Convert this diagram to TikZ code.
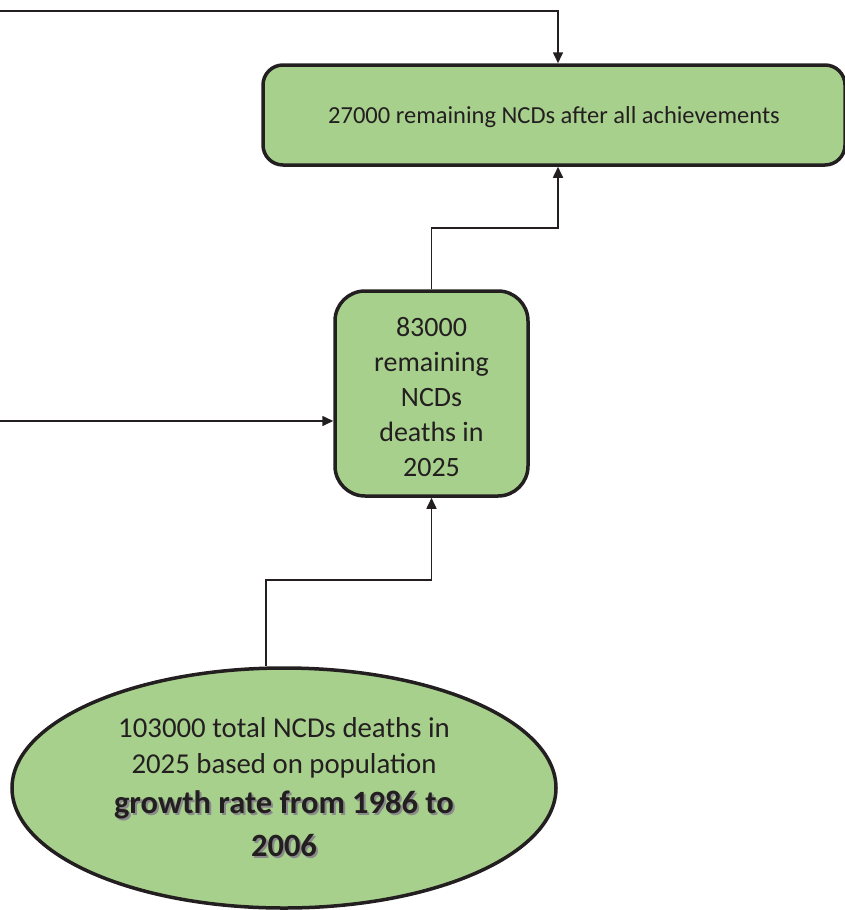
\documentclass[tikz,border=0pt]{standalone}
\usepackage{fontspec}
\setmainfont{Carlito}
\usetikzlibrary{arrows.meta,shapes.geometric}
\definecolor{boxgreen}{HTML}{A8D08D}
\definecolor{ink}{HTML}{231F20}
\definecolor{shade}{HTML}{8A8A8A}
% bold text with a soft offset shadow
\newcommand\shadowed[1]{\makebox[0pt][l]{\raisebox{-2pt}{\hspace{2pt}\textcolor{shade}{#1}}}#1}
\tikzset{
  greenbox/.style={draw=ink, fill=boxgreen, line width=3.5pt, text=ink, rounded corners=#1, inner sep=0pt},
  link/.style={draw=ink, line width=1.6pt, -{Triangle[length=11pt,width=10pt]}},
}
\begin{document}
\begin{tikzpicture}[x=1pt,y=-1pt]
  \useasboundingbox (0,0) rectangle (844,910);

  % boxes
  \node[greenbox=20pt, minimum width=582pt, minimum height=100pt,
        font=\fontsize{24.5}{30}\selectfont] (top) at (554,115)
        {\raisebox{-2pt}[\height][\depth]{27000 remaining NCDs after all achievements}};
  \node[greenbox=30pt, minimum width=193pt, minimum height=205pt,
        align=center, font=\fontsize{28}{35}\selectfont] (mid) at (431.5,393.5)
        {\raisebox{-4pt}[\height][\depth]{\parbox{190pt}{\centering 83000\\remaining\\NCDs\\deaths in\\2025}}};
  \node[draw=ink, fill=boxgreen, line width=3.5pt, text=ink, ellipse,
        minimum width=544pt, minimum height=240pt, inner sep=0pt,
        align=center, font=\fontsize{28.8}{36}\selectfont] (ell) at (284,788)
        {103000 total NCDs deaths in\\2025 based on population\\[4pt]
         {\fontsize{32.5}{42}\selectfont\bfseries\shadowed{growth rate from 1986 to}}\\[7pt]
         {\fontsize{32.5}{42}\selectfont\bfseries\shadowed{2006}}};

  % connector end points
  \coordinate (topfeed) at (0,11);
  \coordinate (topdrop) at (558,11);
  \coordinate (midbend) at (558,228);
  \coordinate (leftfeed) at (0,421);
  \coordinate (ellbend) at (266,580);

  % connectors
  \draw[link] (topfeed) -- (topdrop) -- (topdrop |- top.north);
  \draw[link] (mid.north) |- (midbend) -- (midbend |- top.south);
  \draw[link] (leftfeed) -- (leftfeed -| mid.west);
  \draw[link] (ellbend |- ell.north) -- (ellbend) -| (mid.south);
\end{tikzpicture}
\end{document}
